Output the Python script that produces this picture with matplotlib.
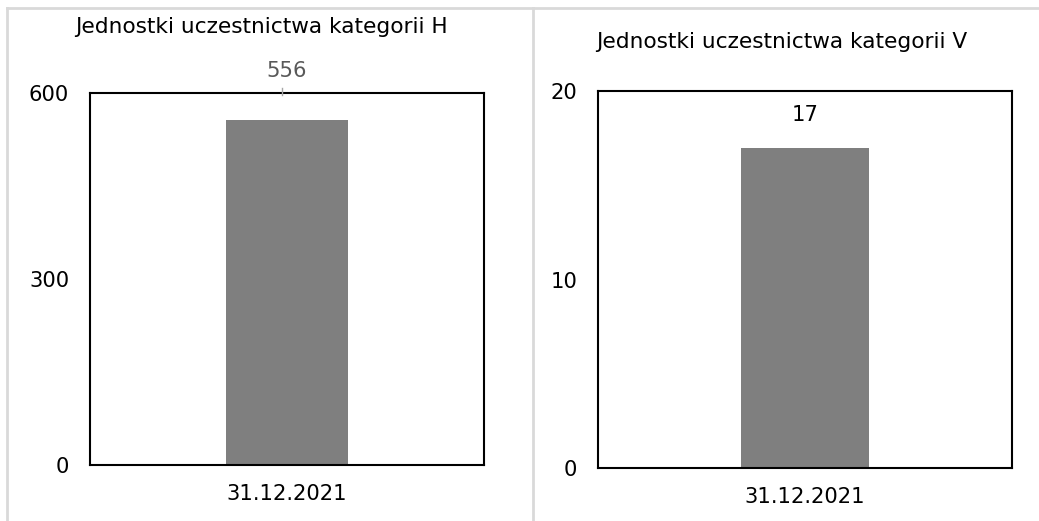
import matplotlib
matplotlib.use("Agg")
import matplotlib.pyplot as plt
from matplotlib.lines import Line2D

# Data
categories = ["31.12.2021"]
values_h = [556]
values_v = [17]
titles = ["Jednostki uczestnictwa kategorii H", "Jednostki uczestnictwa kategorii V"]
yticks_h = [0, 300, 600]
yticks_v = [0, 10, 20]

W, H = 1039, 521
fig = plt.figure(figsize=(W / 100, H / 100), dpi=100)
plt.rcParams['font.family'] = ['DejaVu Sans']

def px_axes(x0, y0, x1, y1):
    return fig.add_axes([x0 / W, (H - y1) / H, (x1 - x0) / W, (y1 - y0) / H])

FS = 15.2
FS_T = 15.6
BAR = "#7f7f7f"

panels = [
    dict(box=(90, 93, 484, 465), vals=values_h, ticks=yticks_h, title=titles[0],
         title_xy=(261, 27), lab_col="#595959", lab_off=49),
    dict(box=(598, 91, 1012, 468), vals=values_v, ticks=yticks_v, title=titles[1],
         title_xy=(782, 42), lab_col="#000000", lab_off=33),
]

for p in panels:
    ax = px_axes(*p["box"])
    x = list(range(len(categories)))
    bars = ax.bar(x, p["vals"], width=0.31, color=BAR, zorder=2)
    ax.set_xlim(-0.5, 0.5)
    ax.set_ylim(p["ticks"][0], p["ticks"][-1])
    ax.set_yticks(p["ticks"])
    ax.set_yticklabels([str(t) for t in p["ticks"]], fontsize=FS)
    ax.set_xticks(x)
    ax.set_xticklabels(categories, fontsize=FS)
    ax.tick_params(axis="y", length=0, pad=15)
    ax.tick_params(axis="x", length=0, pad=13.5)
    for s in ax.spines.values():
        s.set_color("black")
        s.set_linewidth(1.5)
    for b, v in zip(bars, p["vals"]):
        ax.annotate(str(v), (b.get_x() + b.get_width() / 2, v),
                    xytext=(0, p["lab_off"] * 0.72), textcoords="offset points",
                    ha="center", va="center", fontsize=FS, color=p["lab_col"])
    fig.text(p["title_xy"][0] / W, 1 - p["title_xy"][1] / H, p["title"],
             ha="center", va="center", fontsize=FS_T)

# leader notch for left label
fig.add_artist(Line2D([282 / W, 282 / W], [1 - 88 / H, 1 - 95 / H],
                      color="#a6a6a6", lw=1))

# light grey panel borders
grey = "#d9d9d9"
fig.add_artist(Line2D([7 / W, 1], [1 - 8 / H, 1 - 8 / H], color=grey, lw=2))
fig.add_artist(Line2D([7 / W, 7 / W], [0, 1 - 8 / H], color=grey, lw=2))
fig.add_artist(Line2D([533 / W, 533 / W], [0, 1 - 8 / H], color=grey, lw=2))

fig.savefig("out.png", dpi=100, facecolor="white")
